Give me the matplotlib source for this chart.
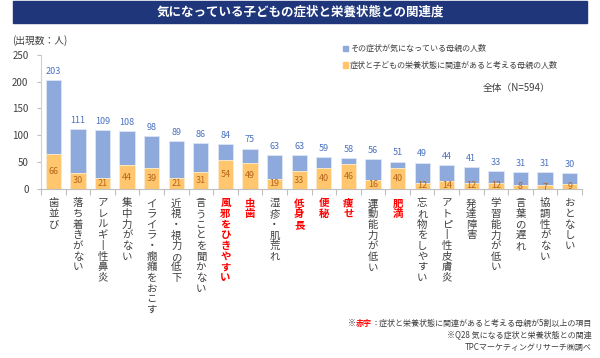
import matplotlib
matplotlib.use("Agg")
import matplotlib.pyplot as plt
import numpy as np

plt.rcParams['font.family'] = ['Noto Sans CJK JP', 'DejaVu Sans']

# data
categories = ['歯並び', '落ち着きがない', 'アレルギー性鼻炎', '集中力がない', 'イライラ・癇癪をおこす',
              '近視・視力の低下', '言うことを聞かない', '風邪をひきやすい', '虫歯', '湿疹・肌荒れ',
              '低身長', '便秘', '痩せ', '運動能力が低い', '肥満', '忘れ物をしやすい',
              'アトピー性皮膚炎', '発達障害', '学習能力が低い', '言葉の遅れ', '協調性がない', 'おとなしい']
concerned = [203, 111, 109, 108, 98, 89, 86, 84, 75, 63, 63, 59, 58, 56, 51, 49, 44, 41, 33, 31, 31, 30]
related = [66, 30, 21, 44, 39, 21, 31, 54, 49, 19, 33, 40, 46, 16, 40, 12, 14, 12, 12, 8, 7, 9]
red_items = ['風邪をひきやすい', '虫歯', '低身長', '便秘', '痩せ', '肥満']

blue = '#8eaadc'
orange = '#ffc66d'
navy = '#1f377a'

fig = plt.figure(figsize=(6, 3.58), dpi=100)

# title banner
fig.patches.append(plt.Rectangle((13 / 600, 1 - 23 / 358), 574 / 600, 22 / 358,
                                 transform=fig.transFigure, color=navy, zorder=0))
fig.text(0.5, 1 - 12 / 358, '気になっている子どもの症状と栄養状態との関連度', color='white',
         fontsize=9, fontweight='bold', ha='center', va='center')

ax = fig.add_axes([41 / 600, 1 - 189 / 358, 541 / 600, 134.3 / 358])
x = np.arange(len(categories))
ax.bar(x, concerned, width=0.62, color=blue, edgecolor='#dfe7f5', linewidth=0.6)
ax.bar(x, related, width=0.62, color=orange, edgecolor='#fff0d0', linewidth=0.6)

for i in range(len(x)):
    ax.text(x[i], concerned[i] + 8, str(concerned[i]), ha='center', va='bottom',
            fontsize=6.5, color='#4a72c0')
    ax.text(x[i], related[i] / 2, str(related[i]), ha='center', va='center',
            fontsize=6.5, color='#b5651d')

ax.set_xlim(-0.5, len(x) - 0.5)
ax.set_ylim(0, 250)
ax.set_yticks([0, 50, 100, 150, 200, 250])
ax.tick_params(axis='y', labelsize=7, labelcolor='#404040', color='#bfbfbf', length=3, pad=6)
ax.set_xticks(np.arange(-0.5, len(x) + 0.5, 1))
ax.set_xticklabels([])
ax.tick_params(axis='x', color='#bfbfbf', length=4)
for s in ['top', 'right']:
    ax.spines[s].set_visible(False)
ax.spines['left'].set_color('#d0d0d0')
ax.spines['bottom'].set_color('#bfbfbf')

# vertical category labels (long vowel mark drawn as a vertical stroke)
for i, c in enumerate(categories):
    lab = '\n'.join(c.replace('ー', '丨'))
    is_red = c in red_items
    ax.text(x[i], -0.07, lab, transform=ax.get_xaxis_transform(), ha='center', va='top',
            fontsize=7.5, linespacing=1.08, color='red' if is_red else '#404040',
            fontweight='bold' if is_red else 'normal')

fig.text(12 / 600, 1 - 41 / 358, '(出現数：人)', fontsize=7, color='#404040', va='center')

# legend
fig.patches.append(plt.Rectangle((343 / 600, 1 - 51 / 358), 5 / 600, 5 / 358,
                                 transform=fig.transFigure, color=blue))
fig.text(350 / 600, 1 - 48.5 / 358, 'その症状が気になっている母親の人数', fontsize=5.8,
         color='#404040', va='center')
fig.patches.append(plt.Rectangle((343 / 600, 1 - 67.5 / 358), 5 / 600, 5 / 358,
                                 transform=fig.transFigure, color=orange))
fig.text(350 / 600, 1 - 65 / 358, '症状と子どもの栄養状態に関連があると考える母親の人数', fontsize=5.8,
         color='#404040', va='center')
fig.text(550 / 600, 1 - 88 / 358, '全体（N=594）', fontsize=7, color='#404040', ha='right', va='center')

# footnotes
fig.canvas.draw()
r = fig.canvas.get_renderer()
t1 = fig.text(592 / 600, 1 - 323 / 358, '：症状と栄養状態に関連があると考える母親が5割以上の項目',
              fontsize=5.8, color='#404040', ha='right', va='center')
bb = t1.get_window_extent(renderer=r)
t2 = fig.text(bb.x0 / 600, 1 - 323 / 358, '赤字', fontsize=5.8, color='red', fontweight='bold',
              ha='right', va='center')
bb2 = t2.get_window_extent(renderer=r)
fig.text(bb2.x0 / 600, 1 - 323 / 358, '※', fontsize=5.8, color='#404040', ha='right', va='center')
fig.text(592 / 600, 1 - 335 / 358, '※Q28 気になる症状と栄養状態との関連', fontsize=5.8,
         color='#404040', ha='right', va='center')
fig.text(592 / 600, 1 - 347 / 358, 'TPCマーケティングリサーチ㈱調べ', fontsize=5.8,
         color='#404040', ha='right', va='center')

fig.savefig('out.png', dpi=100)
